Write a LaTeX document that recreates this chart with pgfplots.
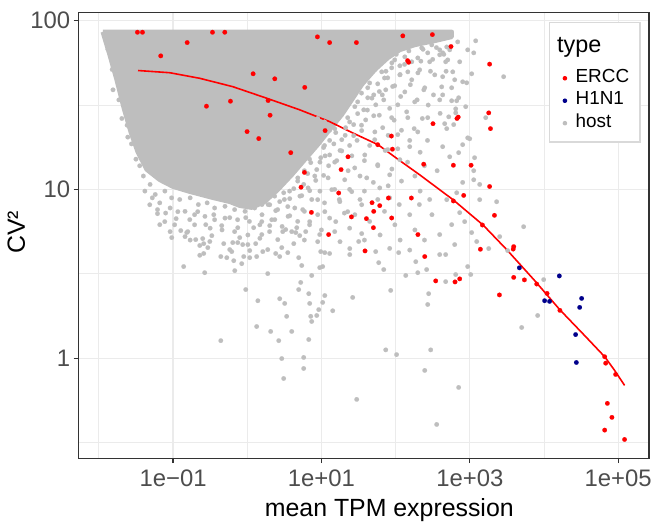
\documentclass[border=0pt]{standalone}
\usepackage{fontspec}
\setmainfont{Liberation Sans}
\usepackage{pgfplots}
\pgfplotsset{compat=1.18}
\definecolor{ggray}{HTML}{BEBEBE}
\definecolor{cred}{HTML}{FF0000}
\definecolor{cblue}{HTML}{00008B}
\definecolor{ggrid}{HTML}{EBEBEB}
\definecolor{gborder}{HTML}{333333}
\definecolor{glabel}{HTML}{4D4D4D}
\definecolor{glegend}{HTML}{D9D9D9}
\newcommand{\legdot}[1]{\pgfpathrectangle{\pgfpoint{-7.7bp}{-7.8bp}}{\pgfpoint{18.4bp}{10.1bp}}\pgfusepath{}\pgfsetfillcolor{#1}\pgfpathcircle{\pgfpointorigin}{2.3bp}\pgfusepath{fill}}
\begin{document}
\begin{tikzpicture}
\begin{axis}[
 xmode=log, ymode=log,
 scale only axis, width=571.7bp, height=447bp,
 xmin=5.26e-3, xmax=2.61e5, ymin=0.254, ymax=112,
 xtick={0.1,10,1000,100000},
 xticklabels={1e−01,1e+01,1e+03,1e+05},
 minor xtick={0.01,1,100,10000},
 ytick={1,10,100}, yticklabels={1,10,100},
 minor ytick={0.3162,3.162,31.62},
 grid=both,
 major grid style={draw=ggrid, line width=1.3bp},
 minor grid style={draw=ggrid, line width=0.8bp},
 axis line style={draw=gborder, line width=1.2bp},
 major tick style={draw=gborder, line width=1.2bp},
 major tick length=4.5bp, minor tick length=0bp,
 tick align=outside, xtick pos=bottom, ytick pos=left,
 ticklabel style={font=\fontsize{24}{29}\selectfont, text=glabel},
 xticklabel style={yshift=-3bp},
 xlabel={mean TPM expression}, ylabel={CV²},
 label style={font=\fontsize{25}{30}\selectfont, text=black},
 xlabel style={at={(axis description cs:0.545,-0.1286)}, anchor=base},
 ylabel style={at={(axis description cs:-0.0932,0.507)}, anchor=base},
 legend style={at={(0.9855,0.979)}, anchor=north east, draw=glegend, line width=1.3bp, fill=white,
   inner xsep=7.6bp, inner ysep=7.7bp, row sep=0pt, column sep=0pt,
   nodes={inner sep=0pt, text depth=, text height=, font=\fontsize{19}{22}\selectfont},
   cells={anchor=west}},
 legend cell align=left,
]
% dense core of host genes
\addplot[draw=ggray, fill=ggray, line width=4.6bp, line join=round, mark=none, forget plot] coordinates {
(0.0113,85.7) (570,85.7) (570,80.1) (337,75.9) (181,71.8) (114,67.1) (78.3,60.1) (52.3,51.1) (34.9,41.7) (25.6,33.9) (18.8,27.7) (12.9,22.6) (8.91,18.4) (5.96,15.0) (3.98,12.2) (2.58,9.96) (1.72,8.46) (1.15,7.80) (0.792,8.01) (0.581,8.45) (0.343,8.93) (0.168,9.70) (0.0991,10.4) (0.0662,11.4) (0.0443,13.1) (0.0334,16.7) (0.0269,21.9) (0.0217,30.4) (0.0174,44.6) (0.0140,62.7) (0.0113,85.7)};
% host genes
\addplot[only marks, mark=*, mark size=2.3bp, color=ggray, mark options={line width=0.1bp}, forget plot] coordinates {
(0.0617,7.18) (0.110,6.71) (0.127,5.70) (0.153,5.55) (0.139,3.49) (0.267,3.21) (0.229,4.65) (0.259,4.77) (0.251,5.11) (0.313,4.91) (0.259,4.17) (0.440,4.00) (0.530,3.94) (0.658,3.78) (0.843,3.63) (0.679,3.30) (0.581,4.40) (0.638,4.84) (0.745,4.84) (0.869,4.71) (1.02,4.71) (1.08,4.34) (0.897,4.00) (1.08,3.94) (1.34,4.00) (1.62,4.28) (1.89,3.17) (0.955,2.55) (1.39,2.19) (1.34,1.54) (0.440,1.27) (2.07,1.44) (2.74,2.25) (3.20,2.11) (3.40,1.77) (2.66,1.27) (3.98,1.44) (2.92,0.995) (3.10,0.758) (5.77,1.01) (5.77,0.869) (6.75,1.29) (7.40,1.65) (7.18,1.77) (8.65,1.79) (9.20,1.94) (10.4,2.14) (11.1,2.35) (6.95,2.11) (6.75,2.41) (5.26,2.81) (4.94,2.55) (7.40,3.09) (10.4,3.49) (14.2,1.91) (26.4,2.29) (29.9,0.570) (5.43,3.54) (4.94,3.94) (2.42,4.17) (2.74,4.00) (3.52,4.22) (4.51,5.55) (6.14,5.62) (9.79,4.28) (11.1,4.22) (12.9,4.17) (24.1,4.11) (24.1,4.46) (34.9,5.47) (31.8,4.91) (9.49,3.44) (59.2,3.68) (69.2,3.35) (85.9,2.52) (73.6,1.12) (103,1.05) (137,3.09) (187,3.73) (199,3.21) (262,3.35) (279,2.41) (271,2.08) (297,1.12) (247,0.846) (358,0.405) (393,4.11) (473,4.11) (473,2.84) (646,3.13) (708,0.671) (937,3.49) (1030,3.13) (53.9,4.28) (110,4.22) (3240,4.34) (5010,1.52) (8220,1.79) (9910,2.92)
(1200,75.9) (1130,64.4) (2860,46.5) (802,43.4) (908,42.8) (1060,48.4) (626,44.6) (589,49.7) (431,46.5) (473,57.0) (431,64.4) (489,69.8) (1640,26.6) (881,30.9) (708,34.9) (666,33.5) (570,33.5) (431,36.3) (646,30.0) (646,28.4) (520,26.9) (459,24.5) (489,22.9) (607,24.2) (998,19.95) (802,18.4) (431,17.9) (708,16.5) (536,15.6) (1160,15.4) (937,20.2) (1130,12.9) (1360,10.7) (2300,8.45) (1360,8.69) (1130,11.4) (5320,6.01) (2530,5.25) (1800,4.46) (802,11.0) (666,9.55) (418,40.5) (489,8.69) (731,7.28) (1060,5.55) (1240,4.91) (570,6.18) (853,6.44) (393,5.40) (626,4.71)
(102,63.1) (151,66.1) (234,67.6) (355,69.2) (89.1,56.2) (132,55.0) (219,57.5) (316,58.9) (74.1,50.1) (115,47.9) (200,49.0) (295,50.1) (91.2,40.7) (158,41.7) (240,38.9) (66.1,36.3) (117,35.5) (195,33.9) (324,36.3) (83.2,30.2) (141,28.8) (229,26.3) (398,28.2) (447,63.1) (479,50.1) (275,31.6)
(49.0,63.1) (60.3,64.6) (38.0,52.5) (52.5,51.3) (70.8,45.7) (30.9,45.7) (44.7,42.7) (60.3,38.0) (24.0,39.8) (34.7,37.2) (47.9,34.7) (20.4,34.7) (28.2,30.9) (41.7,29.5) (60.3,27.5) (95.5,25.7) (17.8,27.5) (24.0,25.1) (34.7,24.0) (52.5,21.9) (79.4,20.9) (120,22.4) (15.1,22.9) (20.9,20.9) (30.2,19.5) (44.7,18.2) (72.4,17.0) (107,17.4) (155,19.5) (12.9,19.5) (17.8,17.0) (25.7,15.8) (38.0,14.8) (57.5,13.8) (89.1,13.2) (145,14.5) (214,16.6) (269,19.5) (178,22.9) (11.2,15.8) (15.1,14.5) (22.9,12.9) (33.1,12.0) (50.1,11.0) (79.4,10.5) (120,11.2) (182,12.0) (245,13.8) (363,12.9) (214,9.77)
(10.2,30.2) (12.3,28.8) (8.91,26.3) (11.0,25.1) (7.41,22.4) (9.55,21.4) (12.9,22.4) (6.17,19.5) (7.94,18.2) (11.0,18.2) (5.13,15.8) (6.92,15.1) (9.55,14.5) (4.37,13.8) (5.89,12.9) (8.13,12.0) (12.3,11.7) (3.47,12.0) (4.79,11.2) (6.61,10.2) (9.55,9.77) (15.1,10.0) (2.75,10.5) (3.72,9.77) (5.13,9.12) (7.41,8.71) (11.0,8.32) (17.4,8.71) (2.34,9.12) (3.16,8.71) (4.37,7.76) (5.89,7.41) (8.91,7.08) (12.9,6.76) (20.4,7.24) (1.91,8.13) (2.57,7.59) (3.55,6.92) (4.79,6.46) (6.92,6.17) (10.0,5.75) (15.1,5.62) (24.0,5.89) (1.58,7.08) (2.14,6.61) (2.95,6.03) (3.98,5.62) (5.89,5.01) (8.91,4.90) (17.8,4.90) (28.2,7.08) (33.1,8.71) (24.0,10.0) (38.0,9.77) (57.5,8.71) (83.2,8.91) (112,8.13) (70.8,7.41) (44.7,6.46) (97.7,6.17) (155,7.08) (209,8.13) (288,8.71) (309,7.08) (182,5.75) (115,5.01) (61.7,5.37) (38.0,5.01) (245,5.01) (155,4.37) (83.2,4.47)
(0.0776,9.77) (0.0955,8.91) (0.123,8.71) (0.170,8.91) (0.219,8.13) (0.288,8.32) (0.363,7.76) (0.501,7.94) (0.676,7.59) (0.933,7.41) (1.26,7.76) (1.58,8.13) (0.0912,7.76) (0.145,7.41) (0.195,7.08) (0.269,6.92) (0.363,6.61) (0.501,6.76) (0.741,6.61) (1.07,6.46) (1.48,6.17) (0.195,6.17) (0.316,5.89) (0.457,5.75) (0.676,5.62) (1.02,5.37) (1.48,5.13) (2.00,5.62) (0.0490,10.7) (0.0575,9.33) (0.0398,12.0) (0.0355,13.8) (0.0316,15.1) (0.0417,9.77) (0.0275,18.6) (0.0245,20.4) (0.0240,24.0) (0.0204,26.3) (0.0186,33.9) (0.0155,38.9) (0.0151,51.3) (0.0132,67.6) (0.0525,8.91) (0.0617,7.59) (0.0661,8.32) (0.0794,7.24) (0.105,6.17) (0.0912,5.62) (0.145,5.25) (0.170,5.01) (0.229,4.07)
(687,74.8) (536,67.1) (393,62.7) (288,57.0) (211,51.1) (165,44.6) (133,37.8) (107,31.7) (88.5,26.6) (67.0,23.2) (52.3,19.7) (38.4,16.0) (28.1,13.4) (20.6,11.4) (13.8,9.96) (8.91,8.69) (5.60,7.59) (3.74,6.98) (2.35,6.62) (1.57,6.44) (504,58.5) (337,47.7) (247,40.0) (181,33.0) (146,26.6) (107,21.1) (78.3,17.2) (57.4,14.0) (40.8,11.7) (25.6,9.69) (17.7,8.46) (11.1,7.38) (6.95,6.44) (4.65,5.93) (3.01,5.62) (937,67.1) (731,57.0) (570,40.0) (393,33.9) (271,26.6) (199,21.9) (155,17.9) (114,15.0) (83.2,12.2) (61.1,10.2) (34.9,8.11) (22.6,7.38) (15.6,6.44) (9.49,5.40)
(225,68.9) (307,71.8) (271,64.4) (393,67.1) (97.2,58.5) (133,61.0) (114,54.0) (165,57.0) (199,60.1) (65.0,49.7) (88.5,52.5) (78.3,45.8) (114,47.7) (146,49.7) (42.1,40.0) (57.4,42.2) (50.7,36.3) (73.6,38.9) (97.2,41.1) (30.8,33.0) (42.1,34.9) (37.2,29.6) (54.0,31.7) (69.2,33.9) (22.6,26.6) (30.8,28.1) (27.2,24.2) (39.5,25.8) (50.7,27.3) (15.6,21.7) (21.2,23.2) (18.8,19.7) (27.2,20.8) (34.9,22.3) (10.7,17.7) (14.7,18.6) (12.9,16.0) (18.8,16.9) (24.0,18.2) (7.18,14.4) (9.79,15.4) (8.65,13.1) (12.5,13.8) (16.1,14.8) (4.80,11.7) (6.53,12.4) (5.77,10.7) (8.38,11.3) (10.7,12.1) (3.10,9.55) (4.24,10.1) (3.74,8.81) (5.43,9.18) (6.95,9.82) (2.01,8.11) (2.74,8.46) (2.42,7.48) (3.52,7.91)
(0.0773,6.44) (0.116,7.38) (0.168,6.62) (0.215,7.38) (0.276,6.18) (0.354,7.08) (0.453,6.10) (0.581,6.80) (0.745,5.93) (0.955,6.80) (1.22,5.93) (1.57,5.40) (2.01,6.10) (2.58,5.04) (3.30,5.78) (4.24,4.77) (5.10,5.32) (0.158,5.62) (0.202,5.04) (0.333,5.32) (0.482,4.77) (0.792,5.18) (1.30,4.77) (1.89,4.40) (2.92,4.52) (0.0960,5.18) (0.0662,6.18) (0.0485,8.11) (0.294,4.52) (0.618,4.28)};
% ERCC spike-ins
\addplot[only marks, mark=*, mark size=2.3bp, color=cred, mark options={line width=0.1bp}, forget plot] coordinates {
(0.0331,85.3) (0.0387,85.3) (0.340,85.3) (0.498,85.3) (0.155,74.1) (0.0682,61.8) (1.20,48.4) (2.35,45.2) (5.96,40.2) (0.282,31.1) (0.594,33.3) (1.91,33.6) (2.03,27.5) (0.994,22.0) (1.43,20.0) (11.2,22.3) (3.86,16.5) (5.90,12.6) (5.31,10.3) (7.33,7.31) (8.83,80.1) (12.9,74.1) (12.5,5.40) (29.6,74.1) (125,81.2) (313,82.6) (558,70.2) (145,57.9) (150,56.6) (1850,55.2) (1800,28.4) (1900,22.9) (672,26.3) (698,26.8) (319,24.5) (87.8,20.7) (57.4,18.4) (90.6,17.3) (22.8,15.6) (18.4,13.1) (239,14.1) (601,13.9) (1040,13.9) (1850,10.4) (17.1,9.52) (48.1,8.34) (61.1,8.01) (80.0,8.89) (163,8.89) (828,9.21) (601,8.54) (50.7,7.41) (25.4,6.87) (40.4,6.71) (88.5,6.77) (2150,7.02) (1480,6.15) (50.2,5.93) (200,5.40) (38.7,4.32) (1390,4.42) (247,4.00) (3910,4.58) (3850,4.43) (347,2.87) (632,2.83) (731,2.95) (2510,2.37) (3910,3.01) (5450,2.91) (7980,2.75) (11000,2.42) (16400,1.92) (65800,1.02) (67900,0.934) (92500,0.801) (71500,0.540) (82400,0.446) (65800,0.375) (122000,0.330)};
% H1N1
\addplot[only marks, mark=*, mark size=2.3bp, color=cblue, mark options={line width=0.1bp}, forget plot] coordinates {
(4660,3.43) (16100,3.07) (10200,2.19) (11900,2.17) (32200,2.26) (30300,2.00) (26700,1.38) (27300,0.943)};
% fitted trend
\addplot[draw=cred, line width=1.6bp, mark=none, forget plot] coordinates {
(0.0337,50.6) (0.0903,49.1) (0.229,45.5) (0.638,40.6) (1.82,34.7) (5.10,29.6) (12.9,25.2) (26.4,21.6) (57.9,18.4) (114,14.8) (211,12.2) (594,8.69) (1510,6.15) (3140,4.40) (7500,2.88) (16300,1.94) (35400,1.36) (65800,1.02) (89700,0.846) (122000,0.690)};
% legend
\addlegendimage{legend image code/.code={}}
\addlegendentry{\fontsize{23.5}{28}\selectfont\rule[-14.2bp]{0pt}{37.1bp}\hspace*{-18.4bp}type}
\addlegendimage{legend image code/.code={\legdot{cred}}}
\addlegendentry{\rule[-7bp]{0pt}{22.5bp}ERCC\hspace*{3.4bp}}
\addlegendimage{legend image code/.code={\legdot{cblue}}}
\addlegendentry{\rule[-7bp]{0pt}{22.5bp}H1N1}
\addlegendimage{legend image code/.code={\legdot{ggray}}}
\addlegendentry{\rule[-7bp]{0pt}{22.5bp}host}
\coordinate (ll) at (rel axis cs:0,0);
\coordinate (ur) at (rel axis cs:1,1);
\end{axis}
\path ([shift={(-78.3bp,-69.7bp)}]ll) rectangle ([shift={(5bp,12.3bp)}]ur);
\end{tikzpicture}
\end{document}
